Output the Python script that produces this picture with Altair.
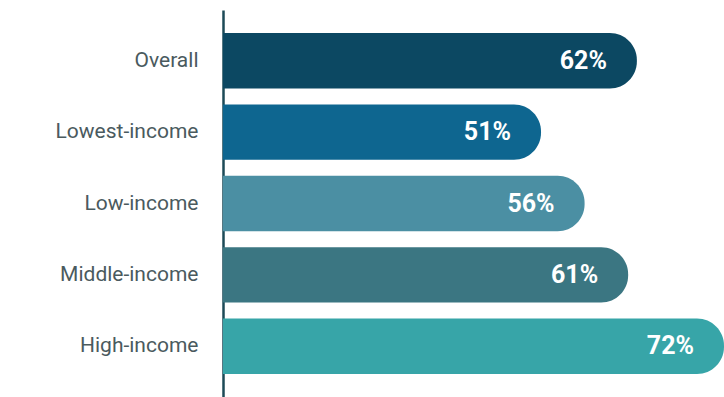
import altair as alt
import pandas as pd

categories = ["Overall", "Lowest-income", "Low-income", "Middle-income", "High-income"]
values = [62, 51, 56, 61, 72]
labels = ["62%", "51%", "56%", "61%", "72%"]
colors = ["#0c4862", "#0e6690", "#4b8fa3", "#3b7682", "#37a5a8"]

df = pd.DataFrame({"cat": categories, "val": values, "label": labels})

x_scale = alt.Scale(domain=[14.5, 72], zero=False, nice=False)
y_enc = alt.Y("cat:N", sort=categories,
              scale=alt.Scale(paddingInner=0.225, paddingOuter=0.324),
              axis=alt.Axis(title=None, ticks=False, labelPadding=25,
                            labelFont="Roboto", labelFontSize=21,
                            labelColor="#4a5a5e", domainColor="#1d4a57",
                            domainWidth=2.5, grid=False))

bars = alt.Chart(df).mark_bar(cornerRadiusTopRight=27, cornerRadiusBottomRight=27,
                              clip=True).encode(
    x=alt.X("val:Q", scale=x_scale, axis=None),
    x2=alt.X2(datum=14.5),
    y=y_enc,
    color=alt.Color("cat:N", sort=categories,
                    scale=alt.Scale(domain=categories, range=colors), legend=None),
)

text = alt.Chart(df).mark_text(align="right", baseline="middle", dx=-30,
                               font="Roboto", fontSize=25, fontWeight="bold",
                               color="white").encode(
    x=alt.X("val:Q", scale=x_scale, axis=None),
    y=alt.Y("cat:N", sort=categories),
    text="label:N",
)

chart = alt.layer(bars, text).properties(
    width=501, height=387,
    padding={"left": 223, "top": 10, "right": 0, "bottom": 0},
    autosize=alt.AutoSizeParams(type="none"),
    background="white",
).configure_view(stroke=None)

chart.save("out.html", embed_options={"renderer": "svg", "actions": False})
